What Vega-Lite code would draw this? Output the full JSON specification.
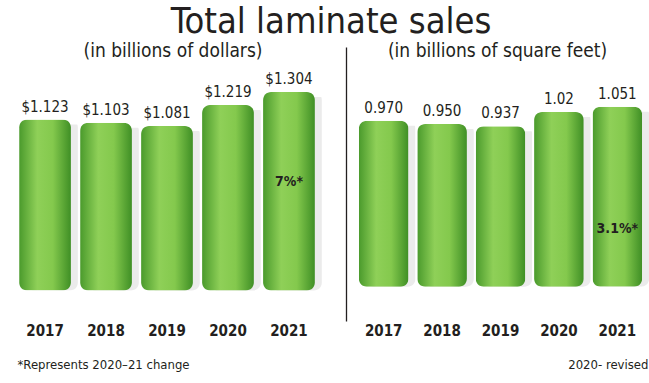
{
  "$schema": "https://vega.github.io/schema/vega-lite/v6.json",
  "background": "white",
  "padding": {"left": 13, "right": 2, "top": 4, "bottom": 2},
  "title": {"text": "Total laminate sales", "fontSize": 36, "font": "DejaVu Sans Condensed, Roboto, sans-serif", "fontWeight": "normal", "color": "#231f20", "anchor": "middle", "offset": 1},
  "spacing": 24,
  "config": {
    "view": {"stroke": null},
    "font": "DejaVu Sans Condensed, Roboto, sans-serif",
    "text": {"font": "DejaVu Sans Condensed, Roboto, sans-serif", "color": "#231f20"}
  },
  "hconcat": [
    {
      "width": 308,
      "height": 274,
      "title": {"text": "(in billions of dollars)", "fontSize": 19, "fontWeight": "normal", "font": "DejaVu Sans Condensed, Roboto, sans-serif", "color": "#231f20", "offset": -14, "dx": 6},
      "data": {"values": [
        {"year": "2017", "value": 1.123, "label": "$1.123", "note": ""},
        {"year": "2018", "value": 1.103, "label": "$1.103", "note": ""},
        {"year": "2019", "value": 1.081, "label": "$1.081", "note": ""},
        {"year": "2020", "value": 1.219, "label": "$1.219", "note": ""},
        {"year": "2021", "value": 1.304, "label": "$1.304", "note": "7%*"}
      ]},
      "encoding": {
        "x": {"field": "year", "type": "ordinal", "scale": {"paddingInner": 0.15, "paddingOuter": 0.1},
          "axis": {"title": "*Represents 2020–21 change", "titleAnchor": "start", "titleFontSize": 13, "titleFontWeight": "normal", "titleFont": "DejaVu Sans Condensed, Roboto, sans-serif", "titleColor": "#231f20", "titlePadding": 20, "titleX": 4,
            "labelAngle": 0, "labelFontSize": 15, "labelFontWeight": "bold", "labelFont": "DejaVu Sans Condensed, Roboto, sans-serif", "labelColor": "#231f20", "labelPadding": 2, "ticks": false, "domain": false}}
      },
      "layer": [
        {
          "mark": {"type": "bar", "cornerRadius": 8, "fill": "#bdbdbd", "opacity": 0.3, "xOffset": 7, "yOffset": 5},
          "encoding": {"y": {"field": "value", "type": "quantitative", "scale": {"domain": [-0.134, 1.536]}, "axis": null}}
        },
        {
          "mark": {"type": "bar", "cornerRadius": 8, "fill": {"gradient": "linear", "x1": 0, "y1": 0, "x2": 1, "y2": 0, "stops": [
            {"offset": 0, "color": "#4a9a2c"}, {"offset": 0.35, "color": "#8fd058"}, {"offset": 0.65, "color": "#84c94d"}, {"offset": 1, "color": "#3f8f25"}]}},
          "encoding": {"y": {"field": "value", "type": "quantitative"}}
        },
        {
          "mark": {"type": "text", "baseline": "bottom", "dy": -5, "fontSize": 15},
          "encoding": {"y": {"field": "value", "type": "quantitative"}, "text": {"field": "label"}}
        },
        {
          "transform": [{"filter": "datum.note != ''"}],
          "mark": {"type": "text", "fontSize": 14, "fontWeight": "bold"},
          "encoding": {"y": {"datum": 0.71}, "text": {"field": "note"}}
        }
      ]
    },
    {
      "width": 295,
      "height": 274,
      "title": {"text": "(in billions of square feet)", "fontSize": 19, "fontWeight": "normal", "font": "DejaVu Sans Condensed, Roboto, sans-serif", "color": "#231f20", "offset": -14, "dx": -3},
      "data": {"values": [
        {"year": "2017", "value": 0.970, "label": "0.970", "note": ""},
        {"year": "2018", "value": 0.950, "label": "0.950", "note": ""},
        {"year": "2019", "value": 0.937, "label": "0.937", "note": ""},
        {"year": "2020", "value": 1.02, "label": "1.02", "note": ""},
        {"year": "2021", "value": 1.051, "label": "1.051", "note": "3.1%*"}
      ]},
      "encoding": {
        "x": {"field": "year", "type": "ordinal", "scale": {"paddingInner": 0.15, "paddingOuter": 0.1},
          "axis": {"title": "2020- revised", "titleAnchor": "end", "titleFontSize": 13, "titleFontWeight": "normal", "titleFont": "DejaVu Sans Condensed, Roboto, sans-serif", "titleColor": "#231f20", "titlePadding": 20,
            "labelAngle": 0, "labelFontSize": 15, "labelFontWeight": "bold", "labelFont": "DejaVu Sans Condensed, Roboto, sans-serif", "labelColor": "#231f20", "labelPadding": 2, "ticks": false, "domain": false}}
      },
      "layer": [
        {
          "mark": {"type": "bar", "cornerRadius": 8, "fill": "#bdbdbd", "opacity": 0.3, "xOffset": 7, "yOffset": 5},
          "encoding": {"y": {"field": "value", "type": "quantitative", "scale": {"domain": [-0.115, 1.3125]},
            "axis": {"orient": "left", "offset": 7, "labels": false, "ticks": false, "grid": false, "title": null, "domain": true, "domainColor": "#231f20", "domainWidth": 1.3}}}
        },
        {
          "mark": {"type": "bar", "cornerRadius": 8, "fill": {"gradient": "linear", "x1": 0, "y1": 0, "x2": 1, "y2": 0, "stops": [
            {"offset": 0, "color": "#4a9a2c"}, {"offset": 0.35, "color": "#8fd058"}, {"offset": 0.65, "color": "#84c94d"}, {"offset": 1, "color": "#3f8f25"}]}},
          "encoding": {"y": {"field": "value", "type": "quantitative"}}
        },
        {
          "mark": {"type": "text", "baseline": "bottom", "dy": -5, "fontSize": 15},
          "encoding": {"y": {"field": "value", "type": "quantitative"}, "text": {"field": "label"}}
        },
        {
          "transform": [{"filter": "datum.note != ''"}],
          "mark": {"type": "text", "fontSize": 14, "fontWeight": "bold"},
          "encoding": {"y": {"datum": 0.34}, "text": {"field": "note"}}
        }
      ]
    }
  ]
}
